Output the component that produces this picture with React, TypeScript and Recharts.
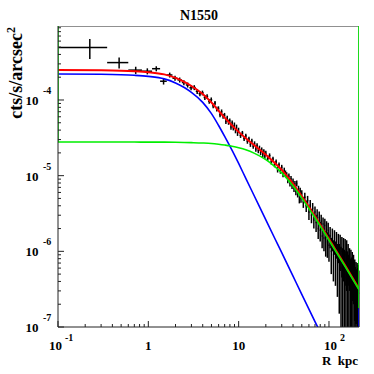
import React from 'react';
import { ComposedChart, Line, Scatter, ErrorBar, XAxis, YAxis } from 'recharts';

// N1550 radial profile, surface brightness in units of 1e-6 cts/s/arcsec^2
const profileR = [
  0.225, 0.475, 0.725, 0.975, 1.225, 1.475, 1.725, 1.975, 2.225, 2.475,
  2.725, 2.975, 3.225, 3.475, 3.725, 3.975, 4.225, 4.475, 4.725, 4.975,
  5.225, 5.475, 5.725, 5.975, 6.225, 6.475, 6.725, 6.975, 7.225, 7.475,
  7.725, 7.975, 8.225, 8.475, 8.725, 8.975, 9.225, 9.475, 9.725, 9.975,
  10.5, 11, 11.5, 12, 12.5, 13, 13.5, 14, 14.5, 15,
  15.5, 16, 16.5, 17, 17.5, 18, 18.5, 19, 19.5, 20,
  21, 22, 23, 24, 25, 26, 27, 28, 29, 30,
  31, 32, 33, 34, 35, 36, 37, 38, 39, 40,
  41, 42, 43, 44, 45, 46, 47, 48, 49, 50,
  52, 54, 56, 58, 60, 62, 64, 66, 68, 70,
  72, 74, 76, 78, 80, 82, 84, 86, 88, 90,
  92, 94, 96, 98, 100,
  103, 106, 109, 112, 115, 118, 121, 124, 127, 130,
  133, 136, 139, 142, 145, 148, 151, 154, 157, 160,
  163, 166, 169, 172, 175, 178, 181, 184, 187, 190,
  193, 196, 199, 202, 205, 208, 211, 214,
];
const profileSB = [
  495, 312, 248, 240, 259, 177, 214, 194, 184, 170,
  158, 145, 146, 130, 121, 124, 108, 111, 96, 101,
  84, 91, 76, 77, 64, 70, 61, 63, 52, 58,
  51, 53, 44, 50, 43, 47, 39.5, 44, 36.5, 40,
  34, 36.5, 31, 33.5, 28.5, 30.5, 26, 28.8, 24.5, 26.5,
  22.5, 25, 21.5, 23.2, 20.3, 22, 19, 20.8, 18.2, 19.8,
  17, 18.4, 15.2, 16.6, 14, 15.3, 12, 13.9, 11.6, 12.9,
  10.5, 11.8, 10.8, 10.2, 8.8, 9.8, 8, 9.1, 7.4, 8.4,
  6.8, 7.8, 6.2, 7.9, 5.8, 6.7, 4.9, 6.3, 5, 5.8,
  4.5, 5.2, 4, 4.7, 3.3, 4.1, 3, 3.7, 2.6, 3.3,
  2.4, 3, 2, 2.8, 1.9, 2.5, 1.6, 2.3, 1.5, 2.2,
  1.35, 2, 1.3, 1.9, 1.2,
  1.6, 1, 1.5, 0.9, 1.4, 0.85, 1.3, 0.75, 1.2, 0.7,
  1.1, 0.6, 1, 0.55, 0.95, 0.5, 0.9, 0.45, 0.85, 0.55,
  0.8, 0.45, 0.7, 0.4, 0.65, 0.45, 0.6, 0.35, 0.55, 0.38,
  0.45, 0.3, 0.42, 0.28, 0.4, 0.3, 0.38, 0.28,
];
const profileErr = [
  146, 52, 27, 22, 20, 17, 16, 15, 14, 13,
  12, 11, 11, 10, 9, 9, 8, 8, 7, 7,
  6, 6, 5.5, 5.5, 5, 5, 4.5, 4.5, 4, 4,
  4, 3.8, 3.6, 3.6, 3.4, 3.4, 3.2, 3.2, 3, 3,
  2.5, 2.5, 2.3, 2.3, 2.1, 2.1, 2, 2, 1.9, 1.9,
  1.8, 1.8, 1.7, 1.7, 1.6, 1.6, 1.5, 1.5, 1.5, 1.5,
  1.3, 1.3, 1.2, 1.2, 1.1, 1.1, 1, 1, 1, 1,
  0.95, 0.95, 0.9, 0.9, 0.85, 0.85, 0.8, 0.8, 0.75, 0.75,
  0.7, 0.7, 0.7, 0.7, 0.65, 0.65, 0.6, 0.6, 0.6, 0.6,
  0.75, 0.75, 0.7, 0.7, 0.7, 0.65, 0.65, 0.65, 0.6, 0.6,
  0.6, 0.6, 0.55, 0.55, 0.55, 0.55, 0.5, 0.5, 0.5, 0.5,
  0.5, 0.5, 0.48, 0.48, 0.47,
  0.5, 0.5, 0.5, 0.5, 0.5, 0.5, 0.5, 0.5, 0.5, 0.55,
  0.55, 0.55, 0.55, 0.55, 0.55, 0.55, 0.55, 0.55, 0.55, 0.45,
  0.45, 0.45, 0.4, 0.4, 0.4, 0.38, 0.38, 0.36, 0.35, 0.34,
  0.33, 0.32, 0.3, 0.3, 0.3, 0.3, 0.28, 0.28,
];

// fitted models on one radius grid (same units)
const modelR = [0.1, 0.3, 0.5, 0.7, 1, 1.5, 2, 2.5, 3, 4, 5, 6, 7, 8, 9, 10, 12, 15, 20, 25, 30, 40, 50, 70, 100, 150, 215];
const innerSB = [221, 219, 216, 212, 205, 190, 168, 146, 126, 93, 66, 46, 33, 24.5, 18.7, 14.5, 9.2, 5.3, 2.6, 1.5, 0.96, 0.47, 0.27, 0.118, 0.05, 0.018, 0.0074];
const outerSB = [27.8, 27.8, 27.8, 27.8, 27.75, 27.7, 27.6, 27.45, 27.3, 27, 26.6, 26, 25.4, 24.8, 24.1, 23.4, 22, 19.7, 16.3, 13.3, 10.9, 7.3, 5.05, 2.78, 1.4, 0.64, 0.312];
const totalSB = [249, 247, 244, 240, 233, 218, 196, 173, 153, 120, 92.6, 72, 58.4, 49.3, 42.8, 37.9, 31.2, 25, 18.9, 14.8, 11.9, 7.77, 5.32, 2.9, 1.45, 0.66, 0.32];

const xMajorTicks = [0.1, 1, 10, 100];
const xMajorBase = ['10', '1', '10', '10'];
const xMajorExp = ['-1', '', '', '2'];
const xMinorTicks = [0.2, 0.3, 0.4, 0.5, 0.6, 0.7, 0.8, 0.9, 2, 3, 4, 5, 6, 7, 8, 9, 20, 30, 40, 50, 60, 70, 80, 90, 200];
const yMajorTicks = [1e-7, 1e-6, 1e-5, 1e-4];
const yMajorExp = ['-7', '-6', '-5', '-4'];
const yMinorTicks = yMajorTicks.flatMap((d) => [2, 3, 4, 5, 6, 7, 8, 9].map((m) => m * d));

const X_MIN = 0.1;
const X_MAX = 215;
const Y_MIN = 1e-7;
const Y_MAX = 9.5e-4;
const UNIT = 1e-6;

// the histograms leave vertical strokes on the frame edges
const leftGreenLevel = 27.8;
const rightGreenLevel = 0.177;

const FONT = "'Liberation Serif', 'Times New Roman', serif";
const AXIS = '#222';
const GREEN = '#00ee00';

const profile = profileR.map((r, i) => {
  const v = profileSB[i] * UNIT;
  const err = profileErr[i] * UNIT;
  // half bin width: 0.25 kpc bins inside 10 kpc, coarser beyond
  const step = i === 0 ? 0.25 : r - profileR[i - 1];
  return { r, v, ey: [Math.min(err, v - Y_MIN), err], ex: r < 10 ? 0.125 : step / 2 };
});
const toModel = (vals: number[]) => modelR.map((r, i) => ({ r, v: vals[i] * UNIT }));
const inner = toModel(innerSB);
const outer = toModel(outerSB);
const total = toModel(totalSB);
const frame = [{ r: X_MIN, v: Y_MAX }, { r: X_MAX, v: Y_MAX }, { r: X_MAX, v: Y_MIN }];
const leftEdge = [{ r: X_MIN, v: Y_MAX }, { r: X_MIN, v: leftGreenLevel * UNIT }];
const rightEdge = [{ r: X_MAX, v: Y_MAX }, { r: X_MAX, v: rightGreenLevel * UNIT }];
const rightEdgeLow = [{ r: X_MAX, v: rightGreenLevel * UNIT }, { r: X_MAX, v: Y_MIN }];

const majorIndex = (ticks: number[], v: number) => ticks.findIndex((t) => Math.abs(t - v) / t < 1e-6);

const XTick = ({ x, y, payload }: any) => {
  const i = majorIndex(xMajorTicks, payload.value);
  if (i < 0) return <line x1={x} x2={x} y1={y} y2={y - 3} stroke={AXIS} />;
  const exp = xMajorExp[i];
  const bx = exp ? x + (exp.startsWith('-') ? -2.5 : 1.5) : x;
  return (
    <g>
      <line x1={x} x2={x} y1={y} y2={y - 6} stroke={AXIS} />
      <text x={bx} y={y + 23} textAnchor="middle" fontFamily={FONT} fontWeight="bold" fontSize={13} fill="#000">
        {xMajorBase[i]}
      </text>
      {exp && (
        <text x={bx + 9.5} y={y + 14} textAnchor="start" fontFamily={FONT} fontWeight="bold" fontSize={10} fill="#000">
          {exp}
        </text>
      )}
    </g>
  );
};

const YTick = ({ x, y, payload }: any) => {
  const i = majorIndex(yMajorTicks, payload.value);
  if (i < 0) return <line x1={x} x2={x + 3} y1={y} y2={y} stroke={AXIS} />;
  return (
    <g>
      <line x1={x} x2={x + 6} y1={y} y2={y} stroke={AXIS} />
      <text x={x - 19.5} y={y + 5} textAnchor="end" fontFamily={FONT} fontWeight="bold" fontSize={13} fill="#000">
        10
      </text>
      <text x={x - 15} y={y - 6} textAnchor="start" fontFamily={FONT} fontWeight="bold" fontSize={10} fill="#000">
        {yMajorExp[i]}
      </text>
    </g>
  );
};

const NoDot = () => <g />;

const edgeLine = (data: { r: number; v: number }[], stroke: string, width: number) => (
  <Line data={data} dataKey="v" type="linear" stroke={stroke} strokeWidth={width} dot={false} activeDot={false} isAnimationActive={false} />
);

export default function App() {
  return (
    <div style={{ position: 'absolute', left: 0, top: 0, width: 374, height: 374, background: '#fff' }}>
      <ComposedChart width={374} height={374} margin={{ top: 26, right: 15, bottom: 46, left: 57 }}>
        <XAxis
          dataKey="r"
          type="number"
          scale="log"
          domain={[X_MIN, X_MAX]}
          allowDataOverflow
          ticks={[...xMajorTicks, ...xMinorTicks].sort((a, b) => a - b)}
          interval={0}
          tick={XTick}
          tickLine={false}
          tickSize={0}
          tickMargin={0}
          height={1}
          axisLine={{ stroke: AXIS }}
        />
        <YAxis
          type="number"
          scale="log"
          domain={[Y_MIN, Y_MAX]}
          allowDataOverflow
          ticks={[...yMajorTicks, ...yMinorTicks].sort((a, b) => a - b)}
          interval={0}
          tick={YTick}
          tickLine={false}
          tickSize={0}
          tickMargin={0}
          width={1}
          axisLine={{ stroke: AXIS }}
        />
        {edgeLine(frame, AXIS, 1)}
        <Scatter data={profile} dataKey="v" shape={NoDot} isAnimationActive={false}>
          <ErrorBar dataKey="ey" direction="y" width={0} stroke="#000" strokeWidth={1.5} isAnimationActive={false} />
          <ErrorBar dataKey="ex" direction="x" width={0} stroke="#000" strokeWidth={1.5} isAnimationActive={false} />
        </Scatter>
        <Line data={inner} dataKey="v" type="monotone" stroke="#0000ff" strokeWidth={1.6} dot={false} activeDot={false} isAnimationActive={false} />
        <Line data={total} dataKey="v" type="monotone" stroke="#ff0000" strokeWidth={2} dot={false} activeDot={false} isAnimationActive={false} />
        <Line data={outer} dataKey="v" type="monotone" stroke={GREEN} strokeWidth={1.6} dot={false} activeDot={false} isAnimationActive={false} />
        {edgeLine(leftEdge, GREEN, 1.6)}
        {edgeLine(rightEdge, GREEN, 1.6)}
        {edgeLine(rightEdgeLow, '#0000ff', 1.6)}
      </ComposedChart>
      <svg width={374} height={374} style={{ position: 'absolute', left: 0, top: 0, pointerEvents: 'none' }}>
        <text x={199} y={20} textAnchor="middle" fontFamily={FONT} fontWeight="bold" fontSize={14} fill="#000">
          N1550
        </text>
        <text transform="translate(22,27) rotate(-90)" textAnchor="end" fontFamily={FONT} fontWeight="bold" fontSize={18} fill="#000">
          cts/s/arcsec
          <tspan dy={-7} fontSize={12}>2</tspan>
        </text>
        <text x={358} y={365} textAnchor="end" fontFamily={FONT} fontWeight="bold" fontSize={13} fill="#000" style={{ whiteSpace: 'pre' }}>
          R  kpc
        </text>
      </svg>
    </div>
  );
}
